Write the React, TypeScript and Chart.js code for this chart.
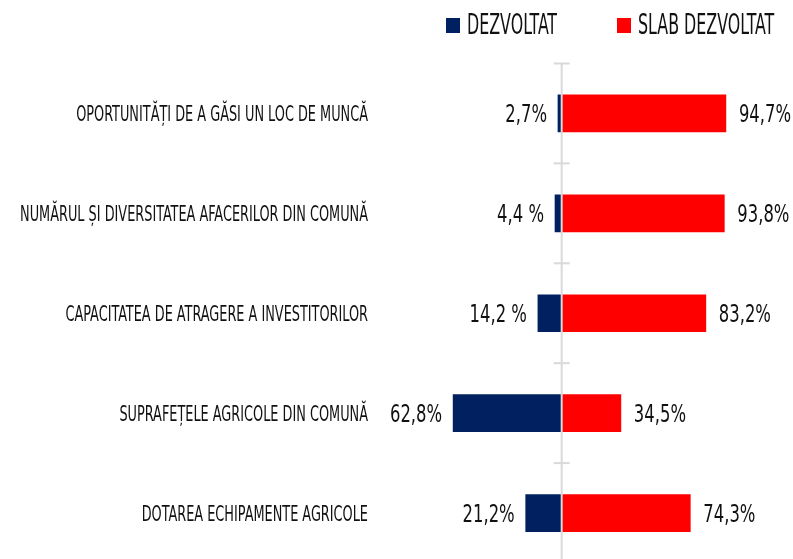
import React, { useEffect, useRef } from 'react';
import { Chart, registerables } from 'chart.js';

Chart.register(...registerables);

const categories = [
  'OPORTUNITĂȚI DE A GĂSI UN LOC DE MUNCĂ',
  'NUMĂRUL ȘI DIVERSITATEA AFACERILOR DIN COMUNĂ',
  'CAPACITATEA DE ATRAGERE A INVESTITORILOR',
  'SUPRAFEȚELE AGRICOLE DIN COMUNĂ',
  'DOTAREA ECHIPAMENTE AGRICOLE',
];
const seriesNames = ['DEZVOLTAT', 'SLAB DEZVOLTAT'];
const dezvoltat = [2.7, 4.4, 14.2, 62.8, 21.2];
const slabDezvoltat = [94.7, 93.8, 83.2, 34.5, 74.3];
const dezvoltatLabels = ['2,7%', '4,4 %', '14,2 %', '62,8%', '21,2%'];
const slabLabels = ['94,7%', '93,8%', '83,2%', '34,5%', '74,3%'];

const BLUE = '#002060';
const RED = '#FF0000';
const AXIS_GRAY = '#d9d9d9';
const TEXT = '#111111';
const FAMILY = "'DejaVu Sans Condensed', 'DejaVu Sans', sans-serif";
const CAP = 0.729;

function drawCondensed(
  ctx: CanvasRenderingContext2D,
  text: string,
  x: number,
  yCenter: number,
  size: number,
  sx: number,
  align: CanvasTextAlign,
) {
  ctx.save();
  ctx.font = `${size}px ${FAMILY}`;
  ctx.fillStyle = TEXT;
  ctx.textAlign = align;
  ctx.textBaseline = 'alphabetic';
  ctx.translate(x, yCenter + (CAP * size) / 2);
  ctx.scale(sx, 1);
  ctx.fillText(text, 0, 0);
  ctx.restore();
}

const decorPlugin = {
  id: 'decor',
  afterDatasetsDraw(chart: any) {
    const ctx: CanvasRenderingContext2D = chart.ctx;
    const area = chart.chartArea;
    const xs = chart.scales.x;
    const ys = chart.scales.y;
    const zx = xs.getPixelForValue(0);

    // zero axis line
    ctx.save();
    ctx.strokeStyle = AXIS_GRAY;
    ctx.lineWidth = 2;
    ctx.beginPath();
    ctx.moveTo(zx, area.top);
    ctx.lineTo(zx, area.bottom);
    ctx.stroke();
    // small category separators
    const n = chart.data.labels.length;
    const step = (area.bottom - area.top) / n;
    for (let i = 0; i <= n; i++) {
      const y = area.top + i * step;
      ctx.beginPath();
      ctx.moveTo(zx - 8, y);
      ctx.lineTo(zx + 8, y);
      ctx.stroke();
    }
    ctx.restore();

    // category labels
    chart.data.labels.forEach((lab: string, i: number) => {
      const y = ys.getPixelForValue(i);
      drawCondensed(ctx, lab, area.left - 7, y, 22, 0.65, 'right');
    });

    // value labels
    const m0 = chart.getDatasetMeta(0);
    const m1 = chart.getDatasetMeta(1);
    m0.data.forEach((el: any, i: number) => {
      drawCondensed(ctx, dezvoltatLabels[i], el.x - 10, el.y, 24, 0.76, 'right');
    });
    m1.data.forEach((el: any, i: number) => {
      drawCondensed(ctx, slabLabels[i], el.x + 12, el.y, 24, 0.76, 'left');
    });

    // legend
    const legendItems = [
      { x: 446, color: BLUE, text: chart.data.datasets[0].label },
      { x: 617, color: RED, text: chart.data.datasets[1].label },
    ];
    legendItems.forEach((it) => {
      ctx.save();
      ctx.fillStyle = it.color;
      ctx.fillRect(it.x, 18, 14, 15);
      ctx.restore();
      drawCondensed(ctx, it.text, it.x + 21, 23.5, 28, 0.63, 'left');
    });
  },
};

export default function App() {
  const ref = useRef<HTMLCanvasElement>(null);
  useEffect(() => {
    const canvas = ref.current!;
    const chart = new Chart(canvas, {
      type: 'bar',
      data: {
        labels: categories,
        datasets: [
          {
            label: seriesNames[0],
            data: dezvoltat.map((v) => -v),
            backgroundColor: BLUE,
            borderColor: 'rgba(255,255,255,0.3)',
            borderWidth: 1,
            barThickness: 39,
          },
          {
            label: seriesNames[1],
            data: slabDezvoltat,
            backgroundColor: RED,
            borderColor: 'rgba(255,255,255,0.3)',
            borderWidth: 1,
            barThickness: 39,
          },
        ],
      },
      options: {
        indexAxis: 'y',
        responsive: true,
        maintainAspectRatio: false,
        animation: false,
        layout: { padding: { top: 63.5, right: 8, bottom: 3, left: 0 } },
        plugins: { legend: { display: false }, tooltip: { enabled: false } },
        scales: {
          x: {
            display: false,
            stacked: true,
            min: -107,
            max: 128,
          },
          y: {
            stacked: true,
            grid: { display: false, drawTicks: false },
            border: { display: false },
            ticks: { display: false },
            afterFit: (s: any) => {
              s.width = 375;
            },
          },
        },
      },
      plugins: [decorPlugin],
    } as any);
    return () => chart.destroy();
  }, []);

  return (
    <div
      style={{
        position: 'fixed',
        left: 0,
        top: 0,
        width: 793,
        height: 559,
        overflow: 'hidden',
        background: '#ffffff',
      }}
    >
      <div style={{ position: 'relative', width: 793, height: 566 }}>
        <canvas ref={ref} />
      </div>
    </div>
  );
}
